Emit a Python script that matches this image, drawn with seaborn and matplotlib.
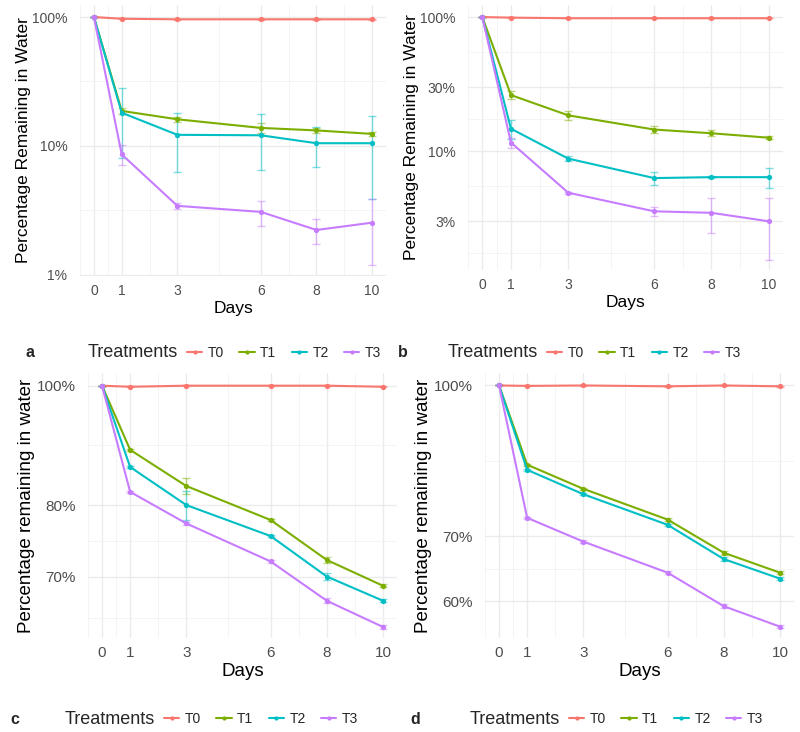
import numpy as np
import pandas as pd
import matplotlib
matplotlib.use("Agg")
import matplotlib.pyplot as plt
from matplotlib.ticker import FixedLocator, FuncFormatter, NullFormatter
import seaborn as sns

sns.set_theme(style="white")
plt.rcParams["font.family"] = ["Liberation Sans", "DejaVu Sans"]

days = [0, 1, 3, 6, 8, 10]
treatments = ["T0", "T1", "T2", "T3"]
colors = ["#F8766D", "#7CAE00", "#00BFC4", "#C77CFF"]

# panel a
a_T0 = [100, 97, 96, 96, 96, 96]
a_T1 = [100, 18.7, 16.1, 13.8, 13.2, 12.4]
a_T2 = [100, 18.1, 12.2, 12.1, 10.5, 10.5]
a_T3 = [100, 8.6, 3.43, 3.08, 2.23, 2.54]
a_T0_sd = [0, 0.5, 0.3, 0.3, 0.3, 0.5]
a_T1_sd = [0, 1.1, 0.8, 1.2, 0.6, 0.4]
a_T2_sd = [0, 10.0, 5.9, 5.6, 3.6, 6.6]
a_T3_sd = [0, 1.5, 0.2, 0.67, 0.5, 1.35]

# panel b
b_T0 = [100, 99, 98, 98, 98, 98]
b_T1 = [100, 26.2, 18.5, 14.5, 13.6, 12.6]
b_T2 = [100, 14.7, 8.8, 6.3, 6.4, 6.4]
b_T3 = [100, 11.6, 4.9, 3.56, 3.47, 3.0]
b_T0_sd = [0, 0.3, 0.2, 0.2, 0.2, 0.2]
b_T1_sd = [0, 1.8, 1.3, 0.8, 0.7, 0.3]
b_T2_sd = [0, 2.3, 0.4, 0.75, 0.1, 1.05]
b_T3_sd = [0, 1.0, 0.1, 0.3, 1.0, 1.45]

# panel c
c_T0 = [100, 99.8, 100, 100, 100, 99.8]
c_T1 = [100, 88.7, 82.9, 77.8, 72.2, 68.8]
c_T2 = [100, 85.9, 80.0, 75.5, 70.0, 66.9]
c_T3 = [100, 82.0, 77.3, 72.0, 66.9, 63.7]
c_T0_sd = [0, 0.1, 0.1, 0.1, 0.1, 0.1]
c_T1_sd = [0, 0.2, 1.3, 0.2, 0.4, 0.2]
c_T2_sd = [0, 0.2, 2.2, 0.2, 0.4, 0.2]
c_T3_sd = [0, 0.2, 0.2, 0.2, 0.3, 0.2]

# panel d
d_T0 = [100, 99.9, 100, 99.8, 100, 99.8]
d_T1 = [100, 82.9, 78.3, 72.8, 67.3, 64.2]
d_T2 = [100, 81.9, 77.3, 71.9, 66.3, 63.3]
d_T3 = [100, 73.1, 69.1, 64.2, 59.3, 56.5]
d_T0_sd = [0, 0.1, 0.1, 0.1, 0.1, 0.1]
d_T1_sd = [0, 0.2, 0.2, 0.2, 0.3, 0.2]
d_T2_sd = [0, 0.2, 0.2, 0.2, 0.3, 0.2]
d_T3_sd = [0, 0.2, 0.2, 0.2, 0.3, 0.2]

a_breaks = [1, 10, 100]
b_breaks = [1, 3, 10, 30, 100]
c_breaks = [60, 70, 80, 100]
d_breaks = [50, 60, 70, 100]

x_breaks = [0, 1, 3, 6, 8, 10]
x_minor = [-0.5, 0.5, 2, 4.5, 7, 9, 10.5]

palette = dict(zip(treatments, colors))
W, H = 800, 732


def make_df(series):
    rows = []
    for t, vals in zip(treatments, series):
        for d, v in zip(days, vals):
            rows.append({"Days": d, "Percent": v, "Treatment": t})
    return pd.DataFrame(rows)


def panel(fig, box, series, sds, ylim, breaks, ylabel, fs):
    l, r, t, b = box
    tick_fs, lab_fs = fs
    ax = fig.add_axes([l / W, 1 - b / H, (r - l) / W, (b - t) / H])
    df = make_df(series)
    for t_, vals, sd in zip(treatments, series, sds):
        ax.errorbar(days, vals, yerr=sd, fmt="none", ecolor=palette[t_],
                    alpha=0.5, capsize=3, elinewidth=1, capthick=1, zorder=2)
    sns.lineplot(data=df, x="Days", y="Percent", hue="Treatment",
                 palette=palette, marker="o", markersize=3.8,
                 markeredgewidth=0, linewidth=1.5, errorbar=None,
                 ax=ax, zorder=3)
    handles, labels = ax.get_legend_handles_labels()
    ax.get_legend().remove()

    ax.set_yscale("log")
    ax.set_ylim(*ylim)
    ax.set_xlim(-0.5, 10.5)
    ax.yaxis.set_major_locator(FixedLocator(breaks))
    ax.yaxis.set_major_formatter(FuncFormatter(lambda v, p: f"{v:g}%"))
    minor = [np.sqrt(breaks[i] * breaks[i + 1]) for i in range(len(breaks) - 1)]
    ax.yaxis.set_minor_locator(FixedLocator(minor))
    ax.yaxis.set_minor_formatter(NullFormatter())
    ax.xaxis.set_major_locator(FixedLocator(x_breaks))
    ax.xaxis.set_minor_locator(FixedLocator(x_minor))

    ax.grid(which="major", color="#EBEBEB", linewidth=1.0)
    ax.grid(which="minor", color="#F3F3F3", linewidth=0.6)
    ax.set_axisbelow(True)
    for s in ax.spines.values():
        s.set_visible(False)
    ax.tick_params(which="both", length=0, labelsize=tick_fs, labelcolor="#4D4D4D")
    ax.tick_params(axis="y", pad=9)
    ax.tick_params(axis="x", pad=6)
    ax.set_xlabel("Days", fontsize=lab_fs, color="black", labelpad=2)
    ax.set_ylabel(ylabel, fontsize=lab_fs, color="black", labelpad=1)
    return ax, handles, labels


fig = plt.figure(figsize=(W / 100, H / 100), dpi=100)

specs = [
    ((80, 386, 5, 276), [a_T0, a_T1, a_T2, a_T3], [a_T0_sd, a_T1_sd, a_T2_sd, a_T3_sd],
     (0.98, 124), a_breaks, "Percentage Remaining in Water", (10, 12.5),
     "a", (25, 353), (88, 353)),
    ((468, 783, 5, 270), [b_T0, b_T1, b_T2, b_T3], [b_T0_sd, b_T1_sd, b_T2_sd, b_T3_sd],
     (1.3, 123), b_breaks, "Percentage Remaining in Water", (10, 12.5),
     "b", (398, 353), (448, 353)),
    ((88, 397, 373, 638), [c_T0, c_T1, c_T2, c_T3], [c_T0_sd, c_T1_sd, c_T2_sd, c_T3_sd],
     (62.4, 102.4), c_breaks, "Percentage remaining in water", (11, 13.5),
     "c", (10, 719), (65, 719)),
    ((485, 794, 373, 638), [d_T0, d_T1, d_T2, d_T3], [d_T0_sd, d_T1_sd, d_T2_sd, d_T3_sd],
     (55.0, 103), d_breaks, "Percentage remaining in water", (11, 13.5),
     "d", (410, 719), (470, 719)),
]

for box, series, sds, ylim, breaks, ylabel, fs, letter, lpos, tpos in specs:
    ax, handles, labels = panel(fig, box, series, sds, ylim, breaks, ylabel, fs)
    fig.text(lpos[0] / W, 1 - lpos[1] / H, letter, fontsize=11.5, fontweight="bold",
             ha="left", va="center")
    fig.text(tpos[0] / W, 1 - tpos[1] / H, "Treatments", fontsize=13,
             ha="left", va="center")
    fig.legend(handles, labels, loc="center left",
               bbox_to_anchor=((tpos[0] + 99) / W, 1 - tpos[1] / H),
               ncol=4, frameon=False, fontsize=10, handlelength=1.1,
               handletextpad=0.4, columnspacing=1.1, borderaxespad=0,
               borderpad=0, markerscale=0.8)

fig.savefig("out.png", dpi=100, facecolor="white")
